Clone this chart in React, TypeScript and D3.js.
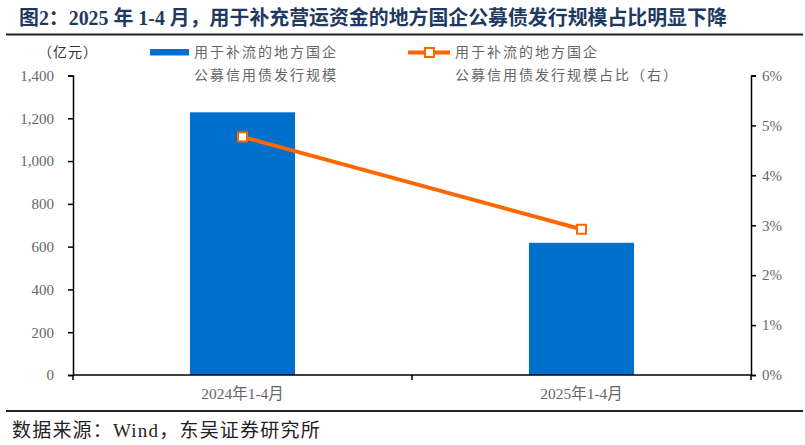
import { useEffect, useRef } from 'react';
import * as d3 from 'd3';

const categories = ['2024年1-4月', '2025年1-4月'];
const issueAmount = [1228, 618];
const issueShare = [0.0477, 0.0292];
const leftTicks = [0, 200, 400, 600, 800, 1000, 1200, 1400];
const rightTicks = [0, 0.01, 0.02, 0.03, 0.04, 0.05, 0.06];

const title = '图2：2025 年 1-4 月，用于补充营运资金的地方国企公募债发行规模占比明显下降';
const source = '数据来源：Wind，东吴证券研究所';
const barLegend = ['用于补流的地方国企', '公募信用债发行规模'];
const lineLegend = ['用于补流的地方国企', '公募信用债发行规模占比（右）'];

const BLUE = '#0070CC';
const ORANGE = '#FF6600';
const GRAY = '#666666';
const SERIF = '"Liberation Serif", "Noto Sans CJK SC", serif';
const CJK = '"Noto Sans CJK SC", "Liberation Serif", sans-serif';

export default function App() {
  const svgRef = useRef<SVGSVGElement>(null);

  useEffect(() => {
    if (!svgRef.current) return;
    const width = 805;
    const height = 445;
    const left = 73;
    const right = 751;
    const top = 75.5;
    const bottom = 375;

    const svg = d3.select(svgRef.current).attr('viewBox', `0 0 ${width} ${height}`);
    svg.selectAll('*').remove();

    const x = d3.scaleBand<string>()
      .domain(categories)
      .range([left, right])
      .paddingInner(0.69)
      .paddingOuter(0.345);
    const yL = d3.scaleLinear().domain([0, 1400]).range([bottom, top]);
    const yR = d3.scaleLinear().domain([0, 0.06]).range([bottom, top]);

    // title and rules
    svg.append('text')
      .attr('x', 19).attr('y', 25)
      .attr('fill', '#1F3A60')
      .style('font-family', SERIF)
      .style('font-weight', 'bold')
      .style('font-size', '19.9px')
      .text(title);
    svg.append('line')
      .attr('x1', 6).attr('x2', 803).attr('y1', 34.5).attr('y2', 34.5)
      .attr('stroke', '#222').attr('stroke-width', 2.2);
    svg.append('line')
      .attr('x1', 6).attr('x2', 803).attr('y1', 411).attr('y2', 411)
      .attr('stroke', '#222').attr('stroke-width', 2);
    svg.append('text')
      .attr('x', 12).attr('y', 437)
      .attr('fill', '#222')
      .style('font-family', SERIF)
      .style('font-size', '19px')
      .style('letter-spacing', '1.2px')
      .text(source);

    // unit
    svg.append('text')
      .attr('x', 68).attr('y', 57)
      .attr('text-anchor', 'middle')
      .attr('fill', '#333')
      .style('font-family', CJK)
      .style('font-size', '14px')
      .style('letter-spacing', '1px')
      .text('（亿元）');

    // bars
    svg.append('g').selectAll('rect')
      .data(issueAmount)
      .join('rect')
      .attr('x', (_, i) => x(categories[i])!)
      .attr('width', x.bandwidth())
      .attr('y', d => yL(d))
      .attr('height', d => yL(0) - yL(d))
      .attr('fill', BLUE);

    // axes
    const axisL = svg.append('g')
      .attr('transform', `translate(${left},0)`)
      .call(d3.axisLeft(yL).tickValues(leftTicks).tickSize(5).tickPadding(14)
        .tickFormat(d => d3.format(',')(d as number)));
    const axisR = svg.append('g')
      .attr('transform', `translate(${right},0)`)
      .call(d3.axisRight(yR).tickValues(rightTicks).tickSize(5).tickPadding(6)
        .tickFormat(d => `${Math.round((d as number) * 100)}%`));
    const axisB = svg.append('g')
      .attr('transform', `translate(0,${bottom})`)
      .call(d3.axisBottom(x).tickSize(0).tickPadding(16));

    [axisL, axisR, axisB].forEach(a => {
      a.select('.domain').attr('stroke', '#000').attr('stroke-width', 1.5);
      a.selectAll('.tick line').attr('stroke', '#000').attr('stroke-width', 1.5);
      a.selectAll('.tick text')
        .attr('fill', GRAY)
        .style('font-family', SERIF)
        .style('font-size', '15px');
    });
    axisB.select('.domain').attr('d', `M${left},0H${right}`);
    axisB.selectAll('.tick text').style('font-size', '15.5px').attr('dy', '0.5em');

    const half = x.step() * x.paddingInner() / 2;
    const bounds = [...categories.map(c => x(c)! - half), x(categories[1])! + x.bandwidth() + half];
    axisB.selectAll('line.bound')
      .data(bounds)
      .join('line')
      .attr('class', 'bound')
      .attr('x1', d => d).attr('x2', d => d)
      .attr('y1', 0).attr('y2', 5)
      .attr('stroke', '#000').attr('stroke-width', 1.5);

    // line series
    const cx = (i: number) => x(categories[i])! + x.bandwidth() / 2;
    const line = d3.line<number>()
      .x((_, i) => cx(i))
      .y(d => yR(d));
    svg.append('path')
      .datum(issueShare)
      .attr('d', line)
      .attr('fill', 'none')
      .attr('stroke', ORANGE)
      .attr('stroke-width', 4);
    svg.append('g').selectAll('rect')
      .data(issueShare)
      .join('rect')
      .attr('x', (_, i) => cx(i) - 4.5)
      .attr('y', d => yR(d) - 4.5)
      .attr('width', 9).attr('height', 9)
      .attr('fill', '#fff')
      .attr('stroke', ORANGE)
      .attr('stroke-width', 2);

    // legend
    const lg = svg.append('g');
    lg.append('rect')
      .attr('x', 150).attr('y', 49).attr('width', 39).attr('height', 6.5)
      .attr('fill', BLUE);
    barLegend.forEach((t, i) => {
      lg.append('text')
        .attr('x', 194).attr('y', 57 + i * 23)
        .attr('fill', GRAY)
        .style('font-family', CJK)
        .style('font-size', '14px')
        .style('letter-spacing', '2px')
        .text(t);
    });
    lg.append('line')
      .attr('x1', 408).attr('x2', 450).attr('y1', 52.5).attr('y2', 52.5)
      .attr('stroke', ORANGE).attr('stroke-width', 4);
    lg.append('rect')
      .attr('x', 425).attr('y', 48).attr('width', 9).attr('height', 9)
      .attr('fill', '#fff').attr('stroke', ORANGE).attr('stroke-width', 2);
    lineLegend.forEach((t, i) => {
      lg.append('text')
        .attr('x', 455).attr('y', 57 + i * 23)
        .attr('fill', GRAY)
        .style('font-family', CJK)
        .style('font-size', '14px')
        .style('letter-spacing', '2px')
        .text(t);
    });
  }, []);

  return (
    <div style={{ position: 'absolute', left: 0, top: 0, width: 805, height: 445, background: '#fff' }}>
      <svg ref={svgRef} width={805} height={445} style={{ display: 'block' }} />
    </div>
  );
}
